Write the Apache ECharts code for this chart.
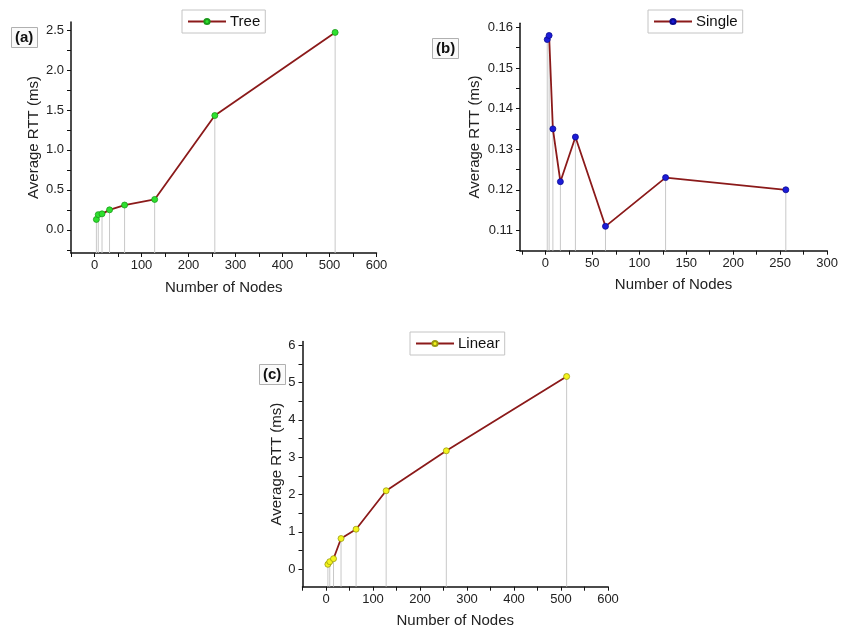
<!DOCTYPE html>
<html><head><meta charset="utf-8">
<script src="https://cdn.jsdelivr.net/npm/echarts@6/dist/echarts.min.js"></script>
<style>html,body{margin:0;padding:0;background:#fff}#c{width:841px;height:634px}</style>
</head><body><div id="c"></div>
<script>
// ---- data ----
const treeNodes   = [4, 8, 16, 32, 64, 128, 256, 512];
const treeRTT     = [0.13, 0.19, 0.20, 0.25, 0.31, 0.38, 1.43, 2.47];
const singleNodes = [2, 4, 8, 16, 32, 64, 128, 256];
const singleRTT   = [0.157, 0.158, 0.135, 0.122, 0.133, 0.111, 0.123, 0.120];
const linearNodes = [4, 8, 16, 32, 64, 128, 256, 512];
const linearRTT   = [0.13, 0.20, 0.28, 0.82, 1.07, 2.10, 3.17, 5.16];

const xLabelsA = [0, 100, 200, 300, 400, 500, 600];
const xLabelsB = [0, 50, 100, 150, 200, 250, 300];
const xLabelsC = [0, 100, 200, 300, 400, 500, 600];
const yLabelsA = [0.0, 0.5, 1.0, 1.5, 2.0, 2.5];
const yLabelsB = [0.11, 0.12, 0.13, 0.14, 0.15, 0.16];
const yLabelsC = [0, 1, 2, 3, 4, 5, 6];

const xTicksA = [-50, 0, 50, 100, 150, 200, 250, 300, 350, 400, 450, 500, 550, 600];
const xTicksB = [-25, 0, 25, 50, 75, 100, 125, 150, 175, 200, 225, 250, 275, 300];
const xTicksC = xTicksA;
const yTicksA = [-0.25, 0, 0.25, 0.5, 0.75, 1.0, 1.25, 1.5, 1.75, 2.0, 2.25, 2.5];
const yTicksB = [0.105, 0.11, 0.115, 0.12, 0.125, 0.13, 0.135, 0.14, 0.145, 0.15, 0.155, 0.16];
const yTicksC = [0, 0.5, 1, 1.5, 2, 2.5, 3, 3.5, 4, 4.5, 5, 5.5, 6];

// ---- styling ----
const FONT = 'Liberation Sans, Arial, sans-serif';
const LINE_COLOR = '#8b1a1a';
const ranges = {
  a: {x: [-50, 600], y: [-0.29, 2.6]},
  b: {x: [-27, 300], y: [0.105, 0.161]},
  c: {x: [-50, 600], y: [-0.47, 6.1]}
};

function zip(xs, ys) { return xs.map((x, i) => [x, ys[i]]); }

function xAxis(idx, r, labels, ticks) {
  return {
    type: 'value', gridIndex: idx, min: r[0], max: r[1],
    name: 'Number of Nodes', nameLocation: 'middle', nameGap: 27,
    nameTextStyle: {fontFamily: FONT, fontSize: 15, color: '#222'},
    axisLine: {show: true, onZero: false, lineStyle: {color: '#111', width: 1.5}},
    axisTick: {show: true, inside: false, length: 4, customValues: ticks, lineStyle: {color: '#111', width: 1}},
    axisLabel: {customValues: labels, fontFamily: FONT, fontSize: 13, color: '#222', margin: 6,
      formatter: v => String(v)},
    splitLine: {show: false}
  };
}
function yAxis(idx, r, labels, ticks, gap, fmt) {
  return {
    type: 'value', gridIndex: idx, min: r[0], max: r[1],
    name: 'Average RTT (ms)', nameLocation: 'middle', nameGap: gap,
    nameTextStyle: {fontFamily: FONT, fontSize: 15, color: '#222'},
    axisLine: {show: true, onZero: false, lineStyle: {color: '#111', width: 1.5}},
    axisTick: {show: true, inside: false, length: 4, customValues: ticks, lineStyle: {color: '#111', width: 1}},
    axisLabel: {customValues: labels, fontFamily: FONT, fontSize: 13, color: '#222', margin: 7, formatter: fmt},
    splitLine: {show: false}
  };
}
function lineSeries(name, idx, data, fill, border) {
  return {
    name: name, type: 'line', xAxisIndex: idx, yAxisIndex: idx, data: data,
    symbol: 'circle', symbolSize: 6, z: 5,
    lineStyle: {color: LINE_COLOR, width: 1.8},
    itemStyle: {color: fill, borderColor: border, borderWidth: 0.8},
    emphasis: {disabled: true}, animation: false
  };
}
function dropSeries(idx, data, yMin) {
  return {
    type: 'custom', xAxisIndex: idx, yAxisIndex: idx, data: data, z: 1, silent: true, animation: false,
    renderItem: function (params, api) {
      const p = api.coord([api.value(0), api.value(1)]);
      const b = api.coord([api.value(0), yMin]);
      return {type: 'line', shape: {x1: p[0], y1: p[1], x2: b[0], y2: b[1]},
        style: {stroke: '#c8c8c8', lineWidth: 1}};
    }
  };
}
function legend(name, left, top) {
  return {
    data: [name], left: left, top: top, orient: 'horizontal',
    itemWidth: 38, itemHeight: 6.5, itemGap: 4,
    borderColor: '#c4c4c4', borderWidth: 1, padding: [4, 5],
    textStyle: {fontFamily: FONT, fontSize: 15, color: '#111', padding: [0, 0, 0, -1]},
    selectedMode: false
  };
}
function panelTitle(t, left, top) {
  return {
    text: t, left: left, top: top, padding: [3, 4],
    borderColor: '#b0b0b0', borderWidth: 1, backgroundColor: '#fafafa',
    textStyle: {fontFamily: FONT, fontSize: 15, fontWeight: 'bold', color: '#111'}
  };
}

const chart = echarts.init(document.getElementById('c'), null, {renderer: 'canvas'});
chart.setOption({
  animation: false,
  backgroundColor: '#fff',
  title: [panelTitle('(a)', 11, 27), panelTitle('(b)', 432, 38), panelTitle('(c)', 259, 364)],
  legend: [legend('Tree', 182, 10), legend('Single', 648, 10), legend('Linear', 410, 332)],
  grid: [
    {left: 71, top: 22, width: 305.5, height: 231},
    {left: 520, top: 23.3, width: 309, height: 227.4},
    {left: 302.5, top: 341.4, width: 305.5, height: 245.3}
  ],
  xAxis: [
    xAxis(0, ranges.a.x, xLabelsA, xTicksA),
    xAxis(1, ranges.b.x, xLabelsB, xTicksB),
    xAxis(2, ranges.c.x, xLabelsC, xTicksC)
  ],
  yAxis: [
    yAxis(0, ranges.a.y, yLabelsA, yTicksA, 30, v => v.toFixed(1)),
    yAxis(1, ranges.b.y, yLabelsB, yTicksB, 38, v => v.toFixed(2)),
    yAxis(2, ranges.c.y, yLabelsC, yTicksC, 16, v => String(Math.round(v)))
  ],
  series: [
    dropSeries(0, zip(treeNodes, treeRTT), ranges.a.y[0]),
    dropSeries(1, zip(singleNodes, singleRTT), ranges.b.y[0]),
    dropSeries(2, zip(linearNodes, linearRTT), ranges.c.y[0]),
    lineSeries('Tree', 0, zip(treeNodes, treeRTT), '#2ee02e', '#1a9a1a'),
    lineSeries('Single', 1, zip(singleNodes, singleRTT), '#1c1cd8', '#0a0a90'),
    lineSeries('Linear', 2, zip(linearNodes, linearRTT), '#f4f41c', '#9a9a10')
  ]
});
</script></body></html>
